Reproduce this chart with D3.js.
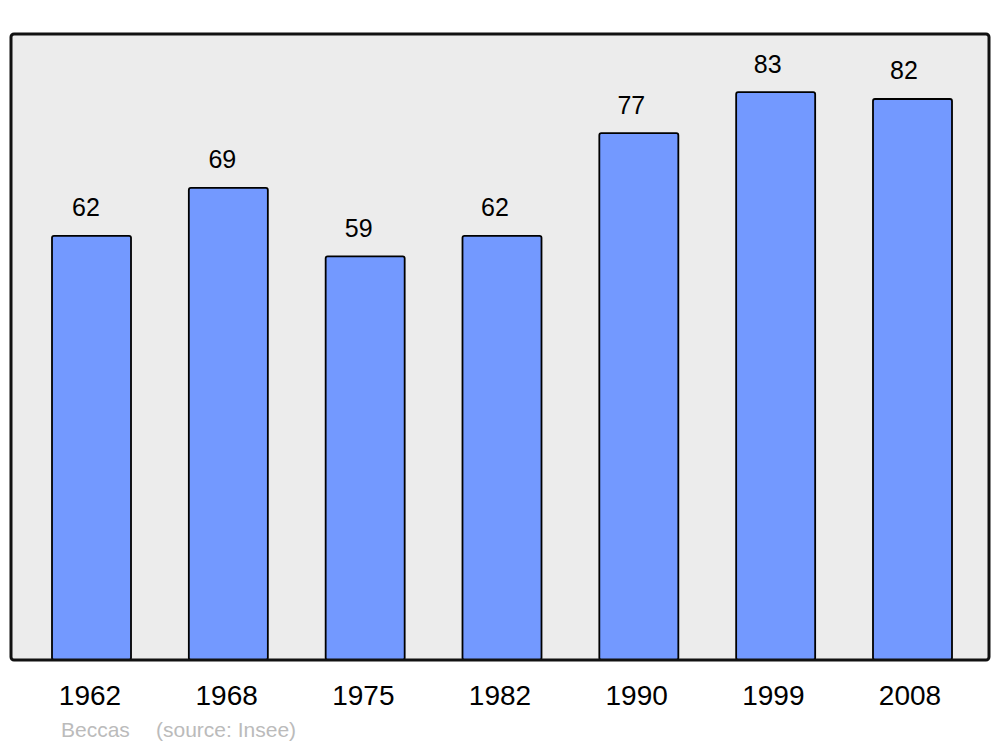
<!DOCTYPE html>
<html><head><meta charset="utf-8">
<script src="https://cdn.jsdelivr.net/npm/d3@7"></script>
<style>body{margin:0;background:#fff}svg{display:block}</style>
</head><body>
<script>
const years = ["1962","1968","1975","1982","1990","1999","2008"];
const population = [62,69,59,62,77,83,82];
const communeName = "Beccas";
const sourceNote = "(source: Insee)";

const W = 1000, H = 747;
const svg = d3.select("body").append("svg").attr("width", W).attr("height", H);
const frame = {x0: 11, x1: 989, y0: 34, y1: 660};

const x = d3.scaleBand().domain(years).range([52, 952]).paddingInner(0.4226).paddingOuter(0);
const y = d3.scaleLinear().domain([0, 91.5]).range([frame.y1, frame.y0]);
const labelX = d3.scalePoint().domain(years).range([86, 904]);
const yearX = d3.scalePoint().domain(years).range([90, 910]);

svg.append("rect").attr("x", frame.x0).attr("y", frame.y0)
  .attr("width", frame.x1 - frame.x0).attr("height", frame.y1 - frame.y0)
  .attr("rx", 3).attr("fill", "#ececec");

svg.selectAll("rect.bar").data(years).join("rect").attr("class","bar")
  .attr("x", d => x(d)).attr("width", x.bandwidth())
  .attr("y", (d,i) => y(population[i]))
  .attr("height", (d,i) => frame.y1 - y(population[i]))
  .attr("rx", 2)
  .attr("fill", "#7399ff").attr("stroke", "#000").attr("stroke-width", 1.8);

svg.append("rect").attr("x", frame.x0).attr("y", frame.y0)
  .attr("width", frame.x1 - frame.x0).attr("height", frame.y1 - frame.y0)
  .attr("rx", 3).attr("fill", "none").attr("stroke", "#111").attr("stroke-width", 3);

svg.selectAll("text.val").data(years).join("text").attr("class","val")
  .attr("x", d => labelX(d))
  .attr("y", (d,i) => y(population[i]) - 19.5)
  .attr("text-anchor","middle")
  .attr("font-family","Liberation Sans, Arial, sans-serif").attr("font-size", 25)
  .attr("fill","#000").text((d,i) => population[i]);

svg.selectAll("text.year").data(years).join("text").attr("class","year")
  .attr("x", d => yearX(d)).attr("y", 705)
  .attr("text-anchor","middle")
  .attr("font-family","Liberation Sans, Arial, sans-serif").attr("font-size", 28)
  .attr("fill","#000").text(d => d);

const src = svg.append("text").attr("y", 737)
  .attr("font-family","Liberation Sans, Arial, sans-serif").attr("font-size", 21)
  .attr("fill","#bbbbbb");
src.append("tspan").attr("x", 61).text(communeName);
src.append("tspan").attr("x", 156).text(sourceNote);
</script>
</body></html>
